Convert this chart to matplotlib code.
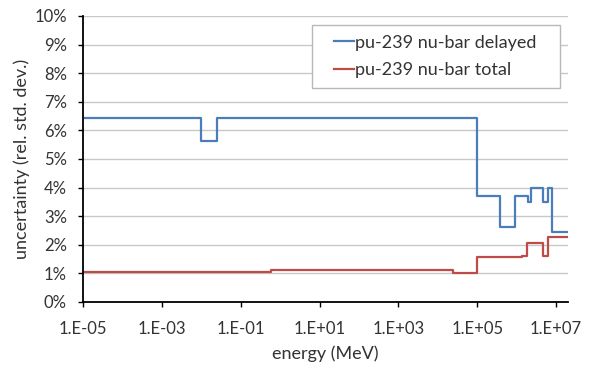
import numpy as np
import matplotlib.pyplot as plt
from matplotlib.patches import Rectangle
from matplotlib.ticker import FixedLocator, FuncFormatter, NullLocator

# step boundaries (MeV) and the uncertainty level (%) on each interval
delayed_edges = [1e-5, 1e-2, 2.5e-2, 1e5, 3.7e5, 9e5, 1.9e6, 2.3e6, 4.7e6, 6.1e6, 7.9e6, 2e7]
delayed_vals = [6.45, 5.63, 6.45, 3.7, 2.63, 3.7, 3.5, 4.0, 3.5, 4.0, 2.46]

total_edges = [1e-5, 0.6, 2.4e4, 1e5, 1.35e6, 1.8e6, 4.7e6, 6.3e6, 2e7]
total_vals = [1.04, 1.12, 1.0, 1.57, 1.62, 2.08, 1.62, 2.27]

xticks = [1e-5, 1e-3, 1e-1, 1e1, 1e3, 1e5, 1e7]
yticks = list(range(0, 11))

plt.rcParams['font.family'] = ['Lato', 'DejaVu Sans']
txt = '#333333'

fig = plt.figure(figsize=(5.9, 3.7), dpi=100)
ax = fig.add_axes([0.1407, 0.1838, 0.822, 0.773])

def steps(edges, vals):
    # repeat last value so the final interval is drawn up to the last edge
    return np.array(edges), np.array(vals + [vals[-1]])

x, y = steps(delayed_edges, delayed_vals)
ax.step(x, y, where='post', color='#4a7ebb', lw=1.6, label='pu-239 nu-bar delayed')
x, y = steps(total_edges, total_vals)
ax.step(x, y, where='post', color='#be4b48', lw=1.6, label='pu-239 nu-bar total')

ax.set_xscale('log')
ax.set_xlim(1e-5, 2e7)
ax.set_ylim(0, 10)

ax.xaxis.set_major_locator(FixedLocator(xticks))
ax.xaxis.set_minor_locator(NullLocator())
ax.xaxis.set_major_formatter(FuncFormatter(lambda v, p: '1.E%+03d' % round(np.log10(v))))
ax.set_yticks(yticks)
ax.yaxis.set_major_formatter(FuncFormatter(lambda v, p: '%d%%' % v))

ax.grid(axis='y', color='#c8c8c8', lw=1)
ax.set_axisbelow(True)
for s in ['top', 'right']:
    ax.spines[s].set_visible(False)
for s in ['left', 'bottom']:
    ax.spines[s].set_linewidth(1.3)
ax.tick_params(length=3.6, width=1.0, labelsize=12, colors='#000000', labelcolor=txt)
ax.tick_params(axis='x', pad=10)
ax.tick_params(axis='y', pad=8)

ax.set_xlabel('energy (MeV)', fontsize=13, color=txt, labelpad=6)
ax.set_ylabel('uncertainty (rel. std. dev.)', fontsize=13, color=txt, labelpad=3)

# legend box drawn by hand so the inner padding matches
ax.add_patch(Rectangle((0.472, 0.748), 0.5115, 0.2205, transform=ax.transAxes,
                       facecolor='white', edgecolor='#b8b8b8', lw=1, zorder=4))
leg = ax.legend(loc='center', bbox_to_anchor=(0.726, 0.858), fontsize=13, handlelength=1.15,
                handletextpad=0.05, frameon=False, borderpad=0, labelspacing=0.65)
leg.set_zorder(5)
for t in leg.get_texts():
    t.set_color(txt)

fig.savefig('out.png', dpi=100)
